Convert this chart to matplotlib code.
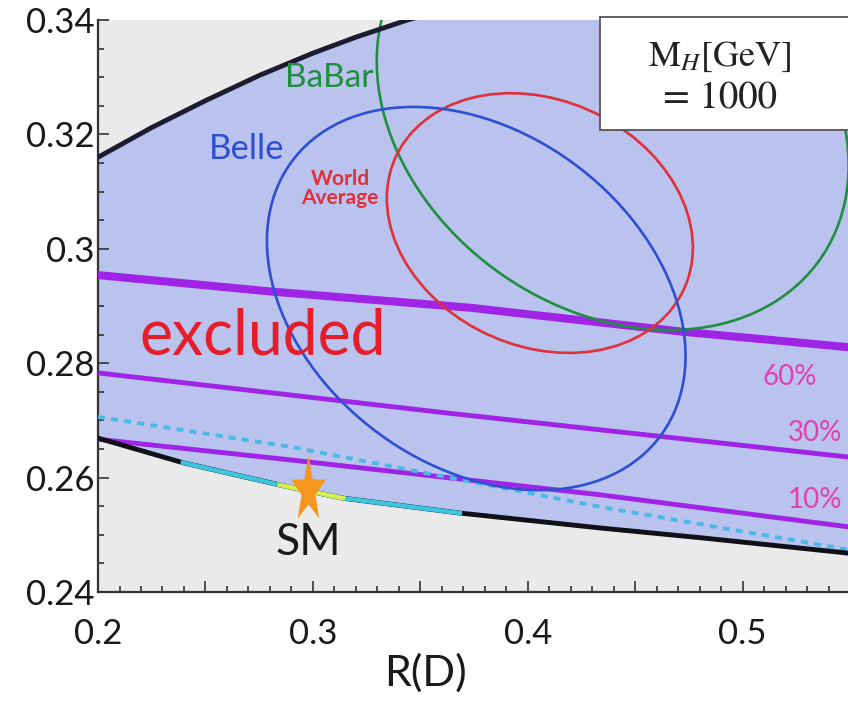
import numpy as np
import matplotlib
matplotlib.use("Agg")
import matplotlib.pyplot as plt
from matplotlib.patches import Ellipse, Rectangle
from matplotlib.path import Path

plt.rcParams['font.family'] = ['Lato', 'DejaVu Sans']
plt.rcParams['mathtext.fontset'] = 'stix'

# boundary curves of the excluded band
upper_x = [0.2, 0.225, 0.25, 0.275, 0.3, 0.32, 0.344, 0.37, 0.45, 0.55]
upper_y = [0.316, 0.3212, 0.3259, 0.3303, 0.3342, 0.3370, 0.340, 0.3428, 0.350, 0.358]
lower_x = [0.2, 0.2395, 0.2847, 0.314, 0.3684, 0.4335, 0.48, 0.549]
lower_y = [0.2669, 0.2626, 0.2587, 0.2564, 0.2538, 0.2512, 0.2495, 0.2468]

# purple contour lines (60%, 30%, 10%)
line60_x = [0.2, 0.2814, 0.373, 0.4721, 0.549]
line60_y = [0.2954, 0.2925, 0.2897, 0.2855, 0.2828]
line30_x = [0.2, 0.3623, 0.549]
line30_y = [0.2783, 0.2713, 0.2636]
line10_x = [0.2, 0.2893, 0.4335, 0.549]
line10_y = [0.2667, 0.2631, 0.2570, 0.2514]

# dashed cyan line
dash_x = [0.2, 0.2893, 0.4335, 0.549]
dash_y = [0.2706, 0.2654, 0.2549, 0.2474]

# measurement ellipses: centre x, centre y, half width, half height, correlation
belle = (0.3760, 0.2913, 0.0974, 0.0335, -0.30)
world = (0.4056, 0.3045, 0.0712, 0.0227, -0.19)
babar = (0.4395, 0.3237, 0.1098, 0.0379, -0.24)

sm_x, sm_y = 0.2977, 0.2578

xticks = [0.2, 0.25, 0.3, 0.35, 0.4, 0.45, 0.5]
xlabels = ['0.2', '', '0.3', '', '0.4', '', '0.5']
yticks = [0.24, 0.26, 0.28, 0.30, 0.32, 0.34]
ylabels = ['0.24', '0.26', '0.28', '0.3', '0.32', '0.34']


def ellipse(p, color):
    cx, cy, dx, dy, rho = p
    cov = np.array([[dx * dx, rho * dx * dy], [rho * dx * dy, dy * dy]])
    vals, vecs = np.linalg.eigh(cov)
    ang = np.degrees(np.arctan2(vecs[1, 1], vecs[0, 1]))
    return Ellipse((cx, cy), 2 * np.sqrt(vals[1]), 2 * np.sqrt(vals[0]), angle=ang,
                   fill=False, edgecolor=color, lw=1.9, zorder=4)


fig = plt.figure(figsize=(8.48, 7.01), dpi=100)
ax = fig.add_axes([0.1156, 0.1555, 0.8844, 0.816])
ax.set_facecolor('#eaeaea')

# blue band
ax.fill(lower_x + upper_x[::-1], lower_y + upper_y[::-1], color='#bac2ee', lw=0, zorder=1)

ax.plot(line60_x, line60_y, color='#a024e6', lw=5.8, zorder=3)
ax.plot(line30_x, line30_y, color='#a024e6', lw=3.5, zorder=3)
ax.plot(line10_x, line10_y, color='#a024e6', lw=3.5, zorder=3)
ax.plot(dash_x, dash_y, color='#4cb8e6', lw=2.8, ls=(0, (1.8, 1.6)), zorder=3)

ax.add_patch(ellipse(babar, '#1f8f3f'))
ax.add_patch(ellipse(world, '#e0303a'))
ax.add_patch(ellipse(belle, '#2e4fd0'))

ax.plot(upper_x, upper_y, color='#1c1c30', lw=3.5, zorder=5)
ax.plot(lower_x, lower_y, color='#101018', lw=3.5, zorder=5)
ax.plot(lower_x[1:5], lower_y[1:5], color='#3cc6de', lw=3.2, zorder=6)
ax.plot(lower_x[2:4], lower_y[2:4], color='#d6ee4e', lw=3.2, zorder=7)

# elongated star for SM
star = Path.unit_regular_star(5, 0.4)
star = Path(star.vertices * [1, 1.9], star.codes)
ax.plot([sm_x], [sm_y], marker=star, markersize=50, color='#f5961e',
        markeredgewidth=0, zorder=8, clip_on=False)

ax.text(0.2977, 0.2486, 'SM', fontsize=32, color='#1a1a1a', ha='center', va='center', zorder=8)
ax.text(0.2767, 0.2846, 'excluded', fontsize=45, color='#e41e2a', ha='center', va='center', zorder=8)
ax.text(0.3074, 0.3299, 'BaBar', fontsize=24, color='#1f8f3f', ha='center', va='center', zorder=8)
ax.text(0.2693, 0.3175, 'Belle', fontsize=25, color='#2e4fd0', ha='center', va='center', zorder=8)
ax.text(0.3126, 0.3105, 'World\nAverage', fontsize=15, color='#e0303a', ha='center', va='center',
        fontweight='bold', linespacing=0.95, zorder=8)
ax.text(0.522, 0.2776, '60%', fontsize=20, color='#e040b0', ha='center', va='center', zorder=8)
ax.text(0.5335, 0.2678, '30%', fontsize=20, color='#e040b0', ha='center', va='center', zorder=8)
ax.text(0.5335, 0.2561, '10%', fontsize=20, color='#e040b0', ha='center', va='center', zorder=8)

# mass box
ax.add_patch(Rectangle((0.669, 0.808), 0.34, 0.197, transform=ax.transAxes, facecolor='white',
                       edgecolor='#555555', lw=1.3, clip_on=False, zorder=9))
ax.text(0.829, 0.935, r'M$_{H}$[GeV]', transform=ax.transAxes, fontsize=26, family='STIXGeneral',
        ha='center', va='center', color='#222222', zorder=10)
ax.text(0.829, 0.862, '= 1000', transform=ax.transAxes, fontsize=28, family='STIXGeneral',
        ha='center', va='center', color='#222222', zorder=10)

ax.set_xlim(0.2, 0.549)
ax.set_ylim(0.24, 0.34)
ax.set_xticks(xticks, labels=xlabels)
ax.set_yticks(yticks, labels=ylabels)
ax.set_xticks(np.arange(0.2, 0.55, 0.01), minor=True)
ax.set_yticks(np.arange(0.24, 0.34, 0.005), minor=True)
ax.tick_params(which='both', direction='in', width=1.2, colors='#333333', labelcolor='#1a1a1a')
ax.tick_params(which='major', length=8, labelsize=25)
ax.tick_params(which='minor', length=4.5)
ax.tick_params(axis='x', pad=19)
ax.tick_params(axis='y', pad=2.5)
for s in ['top', 'right']:
    ax.spines[s].set_visible(False)
for s in ['left', 'bottom']:
    ax.spines[s].set_linewidth(1.6)
    ax.spines[s].set_color('#333333')

ax.set_xlabel('R(D)', fontsize=31, color='#1a1a1a')
ax.xaxis.set_label_coords(0.436, -0.108)

fig.savefig('out.png', dpi=100)
